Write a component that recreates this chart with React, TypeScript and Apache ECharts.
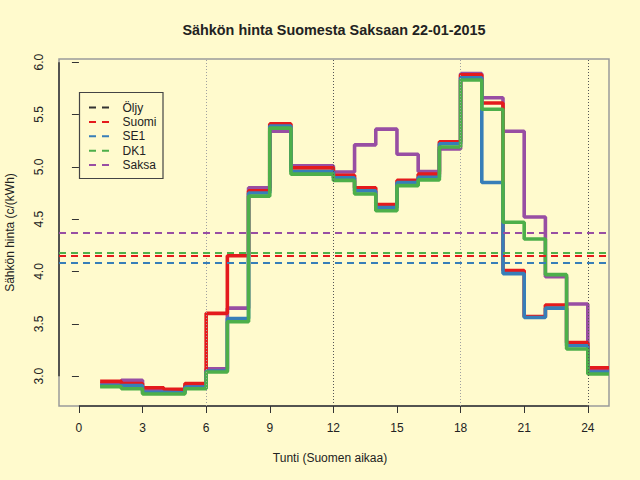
import React, { useEffect, useRef } from "react";
import * as echarts from "echarts";

// ---- data ----
const hours = [1, 2, 3, 4, 5, 6, 7, 8, 9, 10, 11, 12, 13, 14, 15, 16, 17, 18, 19, 20, 21, 22, 23, 24];
const suomi = [2.95, 2.93, 2.89, 2.875, 2.93, 3.6, 4.15, 4.77, 5.41, 4.99, 4.99, 4.92, 4.8, 4.64, 4.87, 4.93, 5.24, 5.88, 5.61, 4.01, 3.57, 3.68, 3.32, 3.08];
const se1 = [2.91, 2.91, 2.845, 2.84, 2.895, 3.05, 3.55, 4.75, 5.39, 4.955, 4.955, 4.895, 4.77, 4.61, 4.85, 4.9, 5.22, 5.85, 4.85, 3.98, 3.56, 3.65, 3.29, 3.04];
const dk1 = [2.9, 2.88, 2.83, 2.83, 2.88, 3.04, 3.52, 4.72, 5.37, 4.93, 4.93, 4.87, 4.74, 4.58, 4.82, 4.875, 5.19, 5.83, 5.55, 4.47, 4.31, 3.97, 3.26, 3.02];
const saksa = [2.93, 2.96, 2.86, 2.85, 2.91, 3.07, 3.65, 4.8, 5.34, 5.01, 5.01, 4.95, 5.21, 5.36, 5.12, 4.955, 5.17, 5.89, 5.66, 5.34, 4.52, 3.95, 3.69, 3.06];

const avgSuomi = 4.15;
const avgSe1 = 4.08;
const avgDk1 = 4.18;
const avgSaksa = 4.37;

const legendNames = ["Öljy", "Suomi", "SE1", "DK1", "Saksa"];
const legendColors = ["#333333", "#E41A1C", "#377EB8", "#4DAF4A", "#984EA3"];

const xTicks = [0, 3, 6, 9, 12, 15, 18, 21, 24];
const yTicks = [3.0, 3.5, 4.0, 4.5, 5.0, 5.5, 6.0];
const dayMarks = [6, 12, 18, 24];
const dayMarkColors = ["#a0a0a0", "#555555", "#a0a0a0", "#555555"];

const titleText = "Sähkön hinta Suomesta Saksaan 22-01-2015";
const xTitle = "Tunti (Suomen aikaa)";
const yTitle = "Sähkön hinta (c/(kWh)";

const X_MIN = -0.94;
const X_MAX = 25.0;
const Y_MIN = 2.715;
const Y_MAX = 6.03;

const FONT = '"Liberation Sans", Arial, Helvetica, sans-serif';

function stepData(vals: number[]) {
  const pts = hours.map((h, i) => [h, vals[i]]);
  pts.push([hours[hours.length - 1] + 1, vals[vals.length - 1]]);
  return pts;
}

function stepSeries(name: string, vals: number[], avg: number, color: string) {
  return {
    type: "line",
    name,
    data: stepData(vals),
    step: "end",
    symbol: "none",
    silent: true,
    lineStyle: { color, width: 3.6 },
    itemStyle: { color },
    markLine: {
      silent: true,
      symbol: "none",
      label: { show: false },
      lineStyle: { color, width: 2, type: [7, 5] },
      data: [{ yAxis: avg }],
    },
  };
}

export default function App() {
  const ref = useRef<HTMLDivElement>(null);

  useEffect(() => {
    if (!ref.current) return;
    const chart = echarts.init(ref.current, null, { renderer: "svg" });

    const legendGraphics: any[] = [
      {
        type: "rect",
        shape: { x: 79.5, y: 92.5, width: 83.5, height: 86 },
        style: { fill: "transparent", stroke: "#444", lineWidth: 1.2 },
      },
    ];
    legendNames.forEach((n, i) => {
      const y = 107.5 + i * 14.4;
      legendGraphics.push({
        type: "line",
        shape: { x1: 89, y1: y, x2: 109, y2: y },
        style: { stroke: legendColors[i], lineWidth: 2, lineDash: [7, 6] },
      });
      legendGraphics.push({
        type: "text",
        x: 122.5,
        y: y,
        style: {
          text: n,
          fill: "#222",
          font: `12px ${FONT}`,
          textAlign: "left",
          textVerticalAlign: "middle",
        },
      });
    });

    const option: any = {
      animation: false,
      backgroundColor: "#FFFACD",
      grid: {
        left: 59,
        top: 59,
        right: 31,
        bottom: 74,
        show: true,
        borderColor: "#9a9a9a",
        borderWidth: 1.5,
        containLabel: false,
        outerBoundsMode: "none",
      },
      xAxis: {
        type: "value",
        min: X_MIN,
        max: X_MAX,
        splitLine: { show: false },
        axisLine: { show: false },
        axisTick: {
          show: true,
          inside: false,
          customValues: xTicks,
          length: 7,
          lineStyle: { color: "#333", width: 1 },
        },
        axisLabel: {
          customValues: xTicks,
          fontSize: 12,
          fontFamily: FONT,
          color: "#222",
          margin: 16,
        },
      },
      yAxis: {
        type: "value",
        min: Y_MIN,
        max: Y_MAX,
        splitLine: { show: false },
        axisLine: { show: false },
        axisTick: {
          show: true,
          inside: false,
          customValues: yTicks,
          length: 7,
          lineStyle: { color: "#333", width: 1 },
        },
        axisLabel: {
          customValues: yTicks,
          fontSize: 12,
          fontFamily: FONT,
          color: "#222",
          rotate: 90,
          margin: 14,
          formatter: (v: number) => v.toFixed(1),
        },
      },
      graphic: [
        {
          type: "text",
          x: 334,
          y: 30,
          style: {
            text: titleText,
            fill: "#222",
            font: `bold 14.4px ${FONT}`,
            textAlign: "center",
            textVerticalAlign: "middle",
          },
        },
        {
          type: "text",
          x: 330,
          y: 458,
          style: {
            text: xTitle,
            fill: "#222",
            font: `12px ${FONT}`,
            textAlign: "center",
            textVerticalAlign: "middle",
          },
        },
        {
          type: "text",
          x: 10,
          y: 232.5,
          rotation: Math.PI / 2,
          style: {
            text: yTitle,
            fill: "#222",
            font: `12px ${FONT}`,
            textAlign: "center",
            textVerticalAlign: "middle",
          },
        },
        ...legendGraphics,
      ],
      series: [
        {
          type: "line",
          name: "x-akseli",
          data: [
            [xTicks[0], Y_MIN],
            [xTicks[xTicks.length - 1], Y_MIN],
          ],
          symbol: "none",
          silent: true,
          clip: false,
          lineStyle: { color: "#333", width: 1.5 },
          markLine: {
            silent: true,
            symbol: "none",
            label: { show: false },
            data: dayMarks.map((d, i) => ({
              xAxis: d,
              lineStyle: { color: dayMarkColors[i], width: 1, type: [1, 2] },
            })),
          },
        },
        {
          type: "line",
          name: "y-akseli",
          data: [
            [X_MIN, yTicks[0]],
            [X_MIN, yTicks[yTicks.length - 1]],
          ],
          symbol: "none",
          silent: true,
          clip: false,
          lineStyle: { color: "#333", width: 1.5 },
        },
        stepSeries("Saksa", saksa, avgSaksa, legendColors[4]),
        stepSeries("Suomi", suomi, avgSuomi, legendColors[1]),
        stepSeries("SE1", se1, avgSe1, legendColors[2]),
        stepSeries("DK1", dk1, avgDk1, legendColors[3]),
      ],
    };

    chart.setOption(option);
    return () => chart.dispose();
  }, []);

  return (
    <div
      ref={ref}
      style={{ position: "fixed", left: 0, top: 0, width: 640, height: 480, background: "#FFFACD" }}
    />
  );
}
